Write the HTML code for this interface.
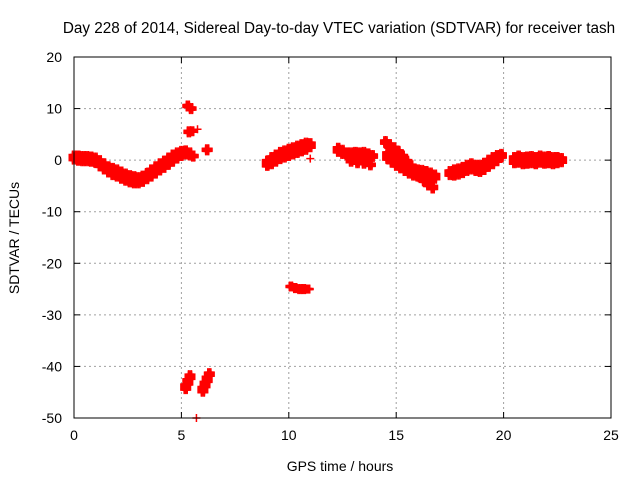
<!DOCTYPE html>
<html><head><meta charset="utf-8"><style>
body{margin:0;background:#fff}
svg{font-family:"Liberation Sans",sans-serif;font-size:14px}
</style></head><body>
<svg width="640" height="480">
<rect width="640" height="480" fill="#fff"/>
<text x="339" y="33" text-anchor="middle" style="font-size:15.3px">Day 228 of 2014, Sidereal Day-to-day VTEC variation (SDTVAR) for receiver tash</text>
<text x="340" y="471" text-anchor="middle">GPS time / hours</text>
<text transform="translate(19,238) rotate(-90)" text-anchor="middle">SDTVAR / TECUs</text>
<g id="grid"></g><g id="ticks"></g><g id="marks"></g>
<rect x="74" y="57" width="537" height="361" fill="none" stroke="#000"/>
</svg>
<script>
const xTicks=[0,5,10,15,20,25];
const yTicks=[20,10,0,-10,-20,-30,-40,-50];
// tracks: [time, value, band half-width]
const track1=[[0,0.5,0.6],[0.2,0.4,0.7],[0.4,0.3,0.7],[0.6,0.3,0.7],[0.8,0.2,0.7],[1,0,0.7],[1.2,-0.6,0.8],[1.4,-1.2,0.8],[1.6,-1.8,0.8],[1.8,-2.2,0.9],[2,-2.5,0.9],[2.2,-2.9,0.9],[2.4,-3.3,0.9],[2.6,-3.6,0.9],[2.8,-3.8,0.9],[3,-3.9,0.8],[3.2,-3.6,0.8],[3.4,-3.1,0.8],[3.6,-2.5,0.9],[3.8,-1.9,0.9],[4,-1.3,0.9],[4.2,-0.8,0.9],[4.4,-0.2,0.9],[4.6,0.4,0.9],[4.8,0.9,0.8],[5,1.3,0.7],[5.2,1.5,0.6],[5.4,1.2,0.5],[5.55,0.8,0.3]];
const track2=[[9,-0.6,0.7],[9.2,-0.1,0.9],[9.4,0.4,0.9],[9.6,0.9,0.9],[9.8,1.2,0.9],[10,1.5,0.9],[10.2,1.8,0.9],[10.4,2.1,0.9],[10.6,2.4,0.9],[10.8,2.7,0.9],[11,2.9,0.6],[11,0.3,0]];
const track3=[[12.3,2,0.6],[12.5,1.6,0.6],[12.7,1.2,0.5],[12.9,1.2,0.5],[13.1,1.3,0.5],[13.3,1.2,0.5],[13.5,1.2,0.6],[13.7,1.0,0.5],[13.9,0.8,0.4],[12.9,-0.1,0.4],[13.2,-0.4,0.4],[13.5,-0.5,0.4],[13.8,-0.9,0.3]];
const track4=[[14.5,3.5,0.4],[14.7,2.8,0.5],[14.9,2.2,0.5],[15.1,1.5,0.5],[15.3,0.6,0.5],[15.5,-0.4,0.5],[15.7,-1.3,0.5],[15.9,-2.2,0.5],[16.1,-3,0.5],[16.3,-3.8,0.5],[16.5,-4.6,0.5],[16.7,-5.3,0.4],[14.6,0.8,0.8],[14.8,0.2,0.9],[15,-0.4,0.9],[15.2,-0.9,0.9],[15.4,-1.4,0.9],[15.6,-1.9,0.9],[15.8,-2.3,0.9],[16,-2.5,0.9],[16.2,-2.6,0.9],[16.4,-2.8,0.9],[16.6,-3.0,0.8],[16.8,-3.2,0.6]];
const track5=[[17.5,-2.5,0.6],[17.7,-2.4,0.8],[17.9,-2.2,0.8],[18.1,-1.9,0.8],[18.3,-1.5,0.8],[18.5,-1.2,0.8],[18.7,-1.5,0.8],[18.9,-1.6,0.9],[19.1,-1.2,0.9],[19.3,-0.6,0.9],[19.5,-0.1,0.9],[19.7,0.4,0.8],[19.9,0.9,0.5]];
const track6=[[20.5,0,0.8],[20.7,0.2,0.9],[20.9,-0.1,0.9],[21.1,0,0.9],[21.3,0.1,0.9],[21.5,-0.1,0.9],[21.7,0.2,0.9],[21.9,0,0.9],[22.1,0.1,0.9],[22.3,-0.1,0.9],[22.5,0,0.8],[22.7,0,0.6]];
const outliers=[[5.3,10.5,0.3],[5.45,10,0.3],[5.35,5.5,0.3],[5.5,5.6,0.2],[5.75,6,0],[6.2,2,0.3],[5.7,-50,0],[10.1,-24.5,0.2],[10.3,-24.8,0.2],[10.5,-25,0.2],[10.7,-25,0.2],[10.9,-25,0.1],[5.2,-44,0.6],[5.3,-43,0.6],[5.4,-42,0.5],[6.0,-44.5,0.6],[6.1,-43.5,0.6],[6.2,-42.5,0.6],[6.3,-41.5,0.4]];
const tracks=[track1,track2,track3,track4,track5,track6,outliers];
const X0=74,X1=611,Y0=418,Y1=57;
const xs=t=>X0+(t-0)/25*(X1-X0);
const ys=v=>Y0-(v+50)/70*(Y0-Y1);
const NS='http://www.w3.org/2000/svg';
function mk(tag,attrs,parent){const e=document.createElementNS(NS,tag);for(const k in attrs)e.setAttribute(k,attrs[k]);parent.appendChild(e);return e;}
const grid=document.getElementById('grid'),ticks=document.getElementById('ticks'),marks=document.getElementById('marks');
xTicks.forEach(t=>{const x=xs(t);
 if(t>0&&t<25){const g=mk('line',{x1:x,x2:x,y1:Y1,y2:Y0,stroke:'#a0a0a0','stroke-dasharray':'2,3'},grid);
 
 }
 mk('line',{x1:x,x2:x,y1:Y0,y2:Y0-6,stroke:'#000'},ticks);mk('line',{x1:x,x2:x,y1:Y1,y2:Y1+6,stroke:'#000'},ticks);
 const l=mk('text',{x:x,y:Y0+22,'text-anchor':'middle'},ticks);l.textContent=t;
 
 });
yTicks.forEach(v=>{const y=ys(v);
 if(v>-50&&v<20){const g=mk('line',{x1:X0,x2:X1,y1:y,y2:y,stroke:'#a0a0a0','stroke-dasharray':'2,3'},grid);
 
 }
 mk('line',{x1:X0,x2:X0+6,y1:y,y2:y,stroke:'#000'},ticks);mk('line',{x1:X1,x2:X1-6,y1:y,y2:y,stroke:'#000'},ticks);
 const l=mk('text',{x:X0-12,y:y+5,'text-anchor':'end'},ticks);l.textContent=v;
 
 });
function plus(t,v){const x=xs(t),y=ys(v);
 const p=mk('path',{d:`M${x-4},${y}h8M${x},${y-4}v8`,stroke:'#f00','stroke-width':1.5},marks);
 
 }
tracks.forEach(tr=>tr.forEach(([t,v,s])=>{
 const n=s>0?Math.max(2,Math.round(s*5)):0;
 for(let i=-n;i<=n;i++){plus(t,n?v+s*i/n:v);if(s>0){plus(t+0.07,v+s*i/n);plus(t-0.07,v+s*i/n);}}
}));
</script>
</body></html>
